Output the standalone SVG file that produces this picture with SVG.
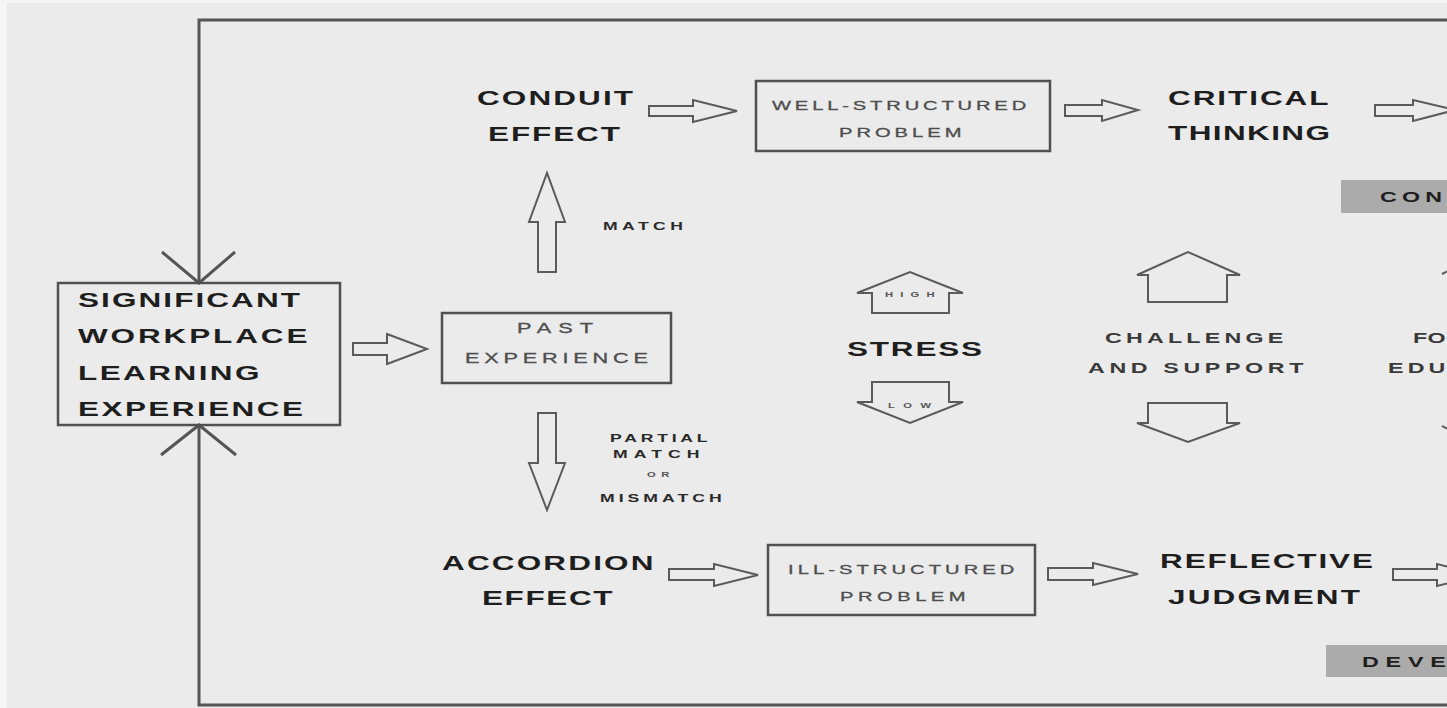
<svg xmlns="http://www.w3.org/2000/svg" width="1447" height="708" viewBox="0 0 1447 708">
<style>
.big{font-family:"Liberation Sans",Arial,sans-serif;font-weight:bold;font-size:21px;fill:#1e1e1e}
.mid{font-family:"Liberation Sans",Arial,sans-serif;font-weight:bold;font-size:15px;fill:#3a3a3a}
.box{font-family:"Liberation Sans",Arial,sans-serif;font-size:14px;fill:#4e4e4e;stroke:#4e4e4e;stroke-width:0.3}
.sm{font-family:"Liberation Sans",Arial,sans-serif;font-weight:bold;font-size:11px;fill:#2a2a2a}
.tiny{font-family:"Liberation Sans",Arial,sans-serif;font-weight:bold;font-size:7px;fill:#555}
.frame{fill:none;stroke:#505050;stroke-width:2.5}
.arr{fill:none;stroke:#5a5a5a;stroke-width:2;stroke-linejoin:miter}
.line{fill:none;stroke:#555;stroke-width:3}
.shade{fill:#ababab}
</style>
<rect x="0" y="0" width="1447" height="708" fill="#f6f6f6"/>
<rect x="7" y="3" width="1440" height="705" fill="#ebebeb"/>

<g id="connectors">
<path class="line" d="M1447 20 H199 V283"/>
<path class="line" d="M199 425 V705 H1447"/>
<polyline class="line" points="162,252 199,283 235,252"/>
<polyline class="line" points="161,455 199,425 236,455"/>
<polygon class="arr" points="353,343 387,343 387,334 427,349 387,364 387,355 353,355"/>
<polygon class="arr" points="649,106 693,106 693,100 737,111 693,122 693,116 649,116"/>
<polygon class="arr" points="1065,105 1102,105 1102,100 1138,110 1102,121 1102,116 1065,116"/>
<polygon class="arr" points="1375,105 1413,105 1413,100 1455,110 1413,121 1413,116 1375,116"/>
<polygon class="arr" points="669,569 714,569 714,564 758,575 714,586 714,580 669,580"/>
<polygon class="arr" points="1048,568 1093,568 1093,563 1138,574 1093,585 1093,580 1048,580"/>
<polygon class="arr" points="1393,569 1437,569 1437,564 1480,575 1437,586 1437,580 1393,580"/>
<polygon class="arr" points="538,272 538,222 529,222 547,173 565,222 556,222 556,272"/>
<polygon class="arr" points="538,413 556,413 556,463 565,463 547,510 529,463 538,463"/>
<polygon class="arr" points="872,313 872,293 857,293 910,272 963,293 949,293 949,313"/>
<polygon class="arr" points="872,382 949,382 949,402 963,402 910,423 857,402 872,402"/>
<polygon class="arr" points="1148,302 1148,275 1137,275 1188,252 1240,275 1227,275 1227,302"/>
<polygon class="arr" points="1148,403 1227,403 1227,423 1240,423 1188,442 1137,423 1148,423"/>
<polyline class="arr" points="1442,274 1450,270"/>
<polyline class="arr" points="1442,426 1450,430"/>
</g>

<g id="swle">
<rect class="frame" x="58" y="283" width="282" height="142"/>
<text class="big" transform="translate(78,307) scale(1.5,1)" textLength="148" lengthAdjust="spacing">SIGNIFICANT</text>
<text class="big" transform="translate(78,343) scale(1.5,1)" textLength="153" lengthAdjust="spacing">WORKPLACE</text>
<text class="big" transform="translate(78,380) scale(1.5,1)" textLength="121" lengthAdjust="spacing">LEARNING</text>
<text class="big" transform="translate(78,416) scale(1.5,1)" textLength="150" lengthAdjust="spacing">EXPERIENCE</text>
</g>

<g id="past">
<rect class="frame" x="442" y="313" width="229" height="70"/>
<text class="box" transform="translate(517,333) scale(1.55,1)" textLength="49" lengthAdjust="spacing">PAST</text>
<text class="box" transform="translate(465,363) scale(1.55,1)" textLength="118" lengthAdjust="spacing">EXPERIENCE</text>
</g>

<g id="match">
<text class="sm" transform="translate(603,230) scale(1.6,1)" textLength="50" lengthAdjust="spacing">MATCH</text>
</g>
<g id="mismatch">
<text class="sm" transform="translate(610,442) scale(1.6,1)" textLength="61" lengthAdjust="spacing">PARTIAL</text>
<text class="sm" transform="translate(613,458) scale(1.6,1)" textLength="54" lengthAdjust="spacing">MATCH</text>
<text class="tiny" transform="translate(647,477) scale(1.6,1)" textLength="14" lengthAdjust="spacing">OR</text>
<text class="sm" transform="translate(600,502) scale(1.6,1)" textLength="76" lengthAdjust="spacing">MISMATCH</text>
</g>

<g id="conduit">
<text class="big" transform="translate(477,105) scale(1.5,1)" textLength="104" lengthAdjust="spacing">CONDUIT</text>
<text class="big" transform="translate(488,141) scale(1.5,1)" textLength="88" lengthAdjust="spacing">EFFECT</text>
</g>

<g id="well">
<rect class="frame" x="756" y="81" width="294" height="70"/>
<text class="box" transform="translate(772,110) scale(1.55,1)" textLength="164" lengthAdjust="spacing" style="font-size:13px">WELL-STRUCTURED</text>
<text class="box" transform="translate(839,137) scale(1.55,1)" textLength="79" lengthAdjust="spacing" style="font-size:13px">PROBLEM</text>
</g>

<g id="critical">
<text class="big" transform="translate(1168,105) scale(1.5,1)" textLength="107" lengthAdjust="spacing">CRITICAL</text>
<text class="big" transform="translate(1168,140) scale(1.5,1)" textLength="108" lengthAdjust="spacing">THINKING</text>
</g>

<g id="con">
<rect class="shade" x="1341" y="180" width="106" height="33"/>
<text class="mid" transform="translate(1380,202) scale(1.55,1)" textLength="40" lengthAdjust="spacing" style="fill:#1e1e1e">CON</text>
</g>

<g id="stress">
<text class="big" transform="translate(847,356) scale(1.5,1)" textLength="90" lengthAdjust="spacing">STRESS</text>
<text class="tiny" transform="translate(885,297) scale(1.6,1)" textLength="31" lengthAdjust="spacing">HIGH</text>
<text class="tiny" transform="translate(888,408) scale(1.6,1)" textLength="27" lengthAdjust="spacing">LOW</text>
</g>

<g id="challenge">
<text class="mid" transform="translate(1105,343) scale(1.55,1)" textLength="115" lengthAdjust="spacing">CHALLENGE</text>
<text class="mid" transform="translate(1088,373) scale(1.55,1)" textLength="139" lengthAdjust="spacing">AND SUPPORT</text>
</g>

<g id="formal">
<text class="mid" transform="translate(1413,343) scale(1.55,1)" textLength="21" lengthAdjust="spacing">FO</text>
<text class="mid" transform="translate(1388,373) scale(1.55,1)" textLength="37" lengthAdjust="spacing">EDU</text>
</g>

<g id="accordion">
<text class="big" transform="translate(442,570) scale(1.5,1)" textLength="141" lengthAdjust="spacing">ACCORDION</text>
<text class="big" transform="translate(482,605) scale(1.5,1)" textLength="87" lengthAdjust="spacing">EFFECT</text>
</g>

<g id="ill">
<rect class="frame" x="768" y="545" width="267" height="70"/>
<text class="box" transform="translate(788,574) scale(1.55,1)" textLength="146" lengthAdjust="spacing" style="font-size:13px">ILL-STRUCTURED</text>
<text class="box" transform="translate(840,601) scale(1.55,1)" textLength="81" lengthAdjust="spacing" style="font-size:13px">PROBLEM</text>
</g>

<g id="reflective">
<text class="big" transform="translate(1160,568) scale(1.5,1)" textLength="142" lengthAdjust="spacing">REFLECTIVE</text>
<text class="big" transform="translate(1168,604) scale(1.5,1)" textLength="128" lengthAdjust="spacing">JUDGMENT</text>
</g>

<g id="deve">
<rect class="shade" x="1326" y="645" width="121" height="32"/>
<text class="mid" transform="translate(1362,667) scale(1.55,1)" textLength="54" lengthAdjust="spacing" style="fill:#1e1e1e">DEVE</text>
</g>
</svg>
